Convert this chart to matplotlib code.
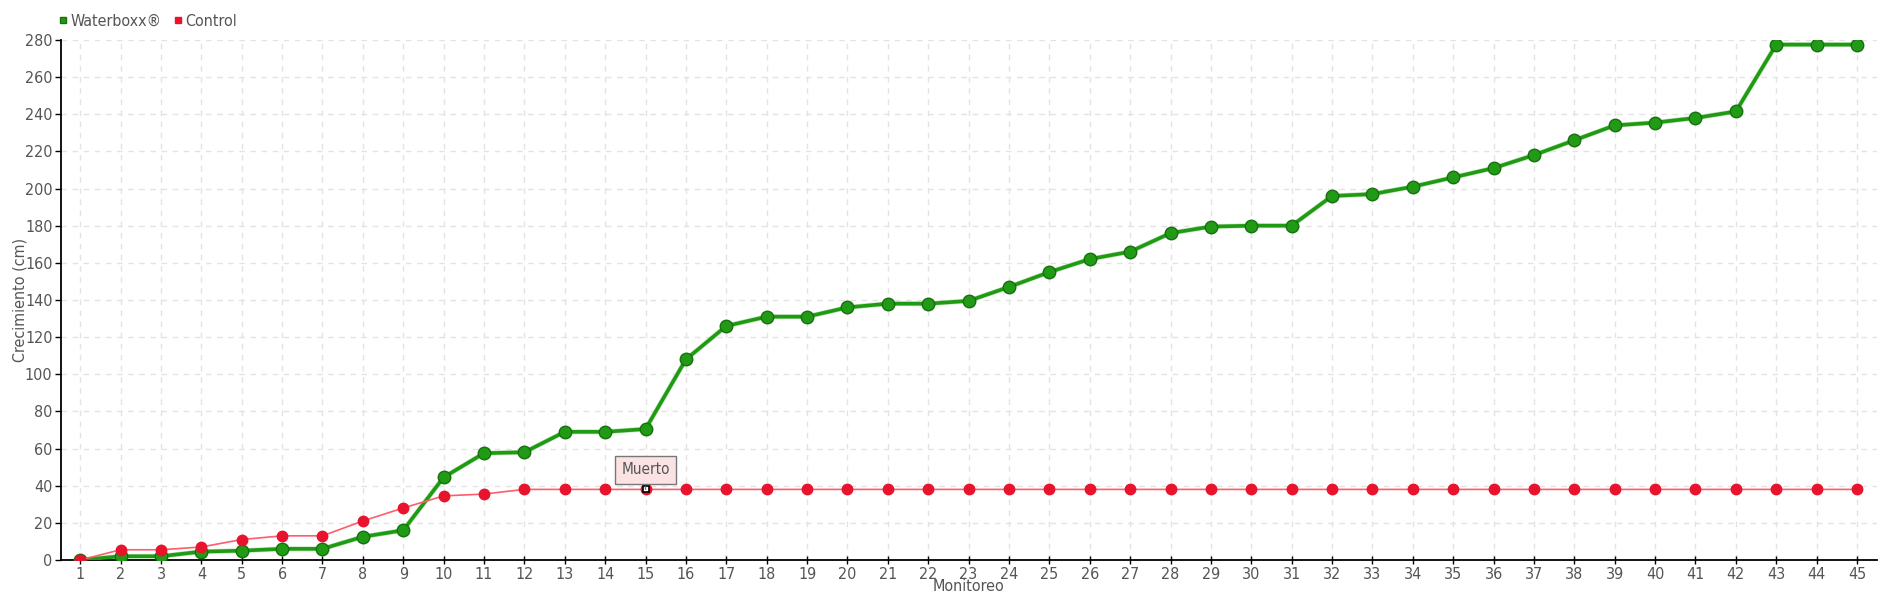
import matplotlib.pyplot as plt
import numpy as np

monitoreo = list(range(1, 46))
waterboxx = [0, 2, 2, 4.5, 5, 6, 6, 12.5, 16, 44.5, 57.5, 58, 69, 69, 70.5, 108, 126, 131, 131, 136,
             138, 138, 139.5, 147, 155, 162, 166, 176, 179.5, 180, 180, 196, 197, 201, 206, 211, 218,
             226, 234, 235.5, 238, 241.5, 277.5, 277.5, 277.5]
control = [0, 5.5, 5.5, 7, 11, 13, 13, 21, 28, 34.5, 35.5] + [38] * 34
muerto_idx = 14  # monitoreo 15

plt.rcParams['font.family'] = ['DejaVu Sans']
plt.rcParams['font.stretch'] = 'condensed'
txt = '#555555'

fig = plt.figure(figsize=(19, 6), dpi=100)
ax = fig.add_axes([0.032, 0.0667, 0.956, 0.8667])

ax.plot(monitoreo, waterboxx, color='#8fd18a', lw=3.5, zorder=2, alpha=0.6)
ax.plot(monitoreo, waterboxx, color='#1f9a12', lw=2.6, marker='o', ms=9,
        mfc='#219a16', mec='#16700e', mew=1, zorder=3, label='Waterboxx®')
ax.plot(monitoreo, control, color='#ff5c6c', lw=1.2, marker='o', ms=7.5,
        mfc='#e8132c', mec='#e8132c', zorder=4, label='Control')
ax.plot(monitoreo[muerto_idx], control[muerto_idx], marker='s', ms=5, mfc='white',
        mec='black', mew=1.2, zorder=5)
ax.annotate('Muerto', (monitoreo[muerto_idx], control[muerto_idx]), xytext=(0, 14),
            textcoords='offset points', ha='center', va='center', fontsize=11, color=txt,
            bbox=dict(boxstyle='square,pad=0.4', fc='#fbe3e3', ec='#777777', lw=1),
            arrowprops=dict(arrowstyle='-', color='#777777', lw=1), zorder=6)

ax.set_xlim(0.52, 45.5)
ax.set_ylim(0, 280)
ax.set_xticks(monitoreo)
ax.set_yticks(np.arange(0, 281, 20))
ax.grid(True, color='#e3e3e3', ls=(0, (4, 4)), lw=1)
ax.set_axisbelow(True)
for s in ['top', 'right']:
    ax.spines[s].set_visible(False)
for s in ['left', 'bottom']:
    ax.spines[s].set_color('black')
    ax.spines[s].set_linewidth(1.3)
ax.tick_params(axis='both', labelsize=11.5, colors='black', labelcolor=txt, length=4, width=1, pad=2)
ax.tick_params(axis='x', direction='inout', length=6)
ax.set_xlabel('Monitoreo', fontsize=11.5, color=txt, labelpad=-2)
ax.set_ylabel('Crecimiento (cm)', fontsize=11.5, color=txt, labelpad=-2)

ax.legend(loc='lower left', bbox_to_anchor=(-0.007, 1.0), ncol=2, frameon=False, fontsize=11.5,
          labelcolor=txt, handlelength=0.5, handletextpad=0.2, columnspacing=0.8, borderaxespad=0.3)
leg = ax.get_legend()
for h, c in zip(leg.legend_handles, ['#1f9a12', '#e8132c']):
    h.set_linestyle('none')
    h.set_marker('s')
    h.set_markersize(5)
    h.set_color(c)

fig.savefig('out.png', dpi=100)
